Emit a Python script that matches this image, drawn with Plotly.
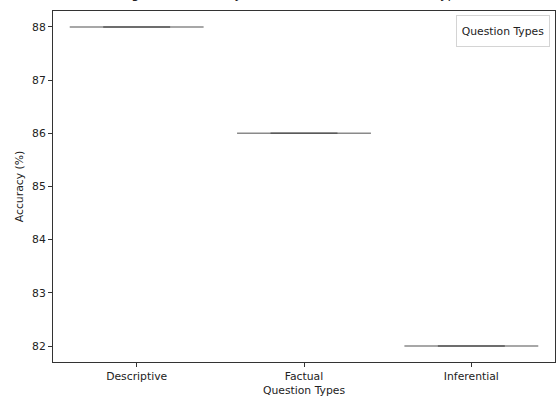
import plotly.graph_objects as go

# ---- data ----
categories = ["Descriptive", "Factual", "Inferential"]
accuracy = [88, 86, 82]
y_ticks = [82, 83, 84, 85, 86, 87, 88]
title_text = "Box Plot Showing Mean Accuracy Distribution Across Question Types"
x_title = "Question Types"
y_title = "Accuracy (%)"
legend_title = "Question Types"

# ---- style ----
FONT = "DejaVu Sans"
BOX_W = 0.8   # collapsed box width (category units)
CAP_W = 0.4   # overlapping inner part
LIGHT = "#8a8a8a"
DARK = "#5a5a5a"

fig = go.Figure()
for i, (cat, v) in enumerate(zip(categories, accuracy)):
    fig.add_trace(go.Scatter(
        x=[i - BOX_W / 2, i + BOX_W / 2], y=[v, v], mode="lines",
        line=dict(color=LIGHT, width=1.6), showlegend=False, hoverinfo="skip"))
    fig.add_trace(go.Scatter(
        x=[i - CAP_W / 2, i + CAP_W / 2], y=[v, v], mode="lines",
        line=dict(color=DARK, width=1.6), showlegend=False, hoverinfo="skip"))

axis_common = dict(
    showline=True, linecolor="#333333", linewidth=1, mirror=True,
    ticks="outside", ticklen=4, tickwidth=1, tickcolor="#333333",
    showgrid=False, zeroline=False,
    tickfont=dict(family=FONT, size=10.8, color="#222222"),
)

fig.update_layout(
    width=556, height=404,
    margin=dict(l=53, r=1, t=11, b=42, autoexpand=False),
    paper_bgcolor="white", plot_bgcolor="white",
    font=dict(family=FONT, size=10.8, color="#222222"),
    showlegend=False,
    xaxis=dict(
        axis_common, range=[-0.5, 2.5],
        tickmode="array", tickvals=list(range(len(categories))), ticktext=categories,
        title=dict(text=x_title, font=dict(family=FONT, size=10.8, color="#222222"), standoff=4),
    ),
    yaxis=dict(
        axis_common, range=[81.7, 88.3],
        tickmode="array", tickvals=y_ticks, ticktext=[str(t) for t in y_ticks],
        title=dict(text=y_title, font=dict(family=FONT, size=10.8, color="#222222"), standoff=6),
    ),
    annotations=[
        dict(text=title_text, xref="paper", yref="paper", x=-0.0538, y=1.0225,
             xanchor="left", yanchor="bottom", showarrow=False,
             font=dict(family=FONT, size=12.95, color="#222222")),
        dict(text=legend_title, xref="paper", yref="paper", x=0.99, y=0.9875,
             xanchor="right", yanchor="top", showarrow=False,
             width=88, height=26, borderpad=2, borderwidth=1, bordercolor="#d4d4d4",
             bgcolor="white", align="center",
             font=dict(family=FONT, size=10.8, color="#222222")),
    ],
)

fig.write_html("out.html", config={"displayModeBar": False},
               post_script="document.body.style.margin='0';document.body.style.overflow='hidden';")
